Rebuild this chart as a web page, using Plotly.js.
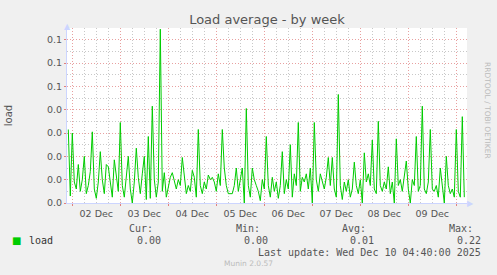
<!DOCTYPE html>
<html><head><meta charset="utf-8">
<script src="https://cdn.plot.ly/plotly-3.0.1.min.js"></script>
<style>html,body{margin:0;padding:0;background:#f0f0f0;}#c{width:497px;height:275px;}</style>
</head><body><div id="c"></div>
<script>
// hourly samples starting 2025-12-01 22:00
const startTime = '2025-12-01T22:00:00';
const loadValues = [
0.063,0.006,0.060,0.018,0.012,0.033,0.010,0.020,0.040,0.008,0.015,0.027,
0.061,0.012,0.004,0.018,0.044,0.020,0.008,0.033,0.031,0.020,0.005,0.037,
0.024,0.010,0.069,0.015,0.005,0.020,0.040,0.012,0.000,0.018,0.047,0.022,
0.008,0.025,0.040,0.003,0.057,0.004,0.083,0.020,0.005,0.018,0.149,0.010,
0.026,0.005,0.015,0.022,0.026,0.018,0.012,0.020,0.015,0.039,0.020,0.008,
0.015,0.010,0.028,0.022,0.005,0.063,0.015,0.008,0.018,0.012,0.024,0.020,
0.022,0.018,0.010,0.025,0.015,0.063,0.030,0.015,0.008,0.008,0.008,0.015,
0.030,0.010,0.020,0.030,0.000,0.081,0.015,0.005,0.030,0.020,0.015,0.010,
0.002,0.020,0.012,0.057,0.015,0.005,0.022,0.010,0.018,0.004,0.015,0.044,
0.008,0.020,0.012,0.050,0.005,0.025,0.015,0.069,0.010,0.022,0.018,0.025,
0.012,0.030,0.000,0.069,0.020,0.010,0.025,0.018,0.012,0.022,0.039,0.015,
0.039,0.012,0.005,0.093,0.015,0.003,0.018,0.010,0.020,0.005,0.012,0.035,
0.015,0.008,0.020,0.000,0.043,0.018,0.025,0.015,0.054,0.012,0.008,0.070,
0.015,0.010,0.018,0.012,0.031,0.008,0.018,0.000,0.055,0.015,0.020,0.010,
0.025,0.036,0.012,0.000,0.020,0.015,0.057,0.010,0.015,0.083,0.012,0.008,
0.018,0.063,0.012,0.010,0.015,0.005,0.030,0.012,0.000,0.040,0.015,0.008,
0.012,0.005,0.063,0.010,0.005,0.074,0.005
];
const dayTicks = ['2025-12-02','2025-12-03','2025-12-04','2025-12-05','2025-12-06','2025-12-07','2025-12-08','2025-12-09','2025-12-10'];
const dayLabels = ['02 Dec','03 Dec','04 Dec','05 Dec','06 Dec','07 Dec','08 Dec','09 Dec',''];
const yTickVals = [0,0.02,0.04,0.06,0.08,0.10,0.12,0.14];
const yTickText = ['0.0','0.0','0.0','0.0','0.0','0.1','0.1','0.1'];
const statHeads = ['Cur:','Min:','Avg:','Max:'];
const statVals = ['0.00','0.00','0.01','0.22'];
const seriesName = 'load';
const lastUpdate = 'Last update: Wed Dec 10 04:40:00 2025';

const t0 = new Date(startTime.replace('T',' ').replace(/-/g,'/')).getTime();
function fmt(ms){const d=new Date(ms);const p=n=>String(n).padStart(2,'0');
 return d.getFullYear()+'-'+p(d.getMonth()+1)+'-'+p(d.getDate())+' '+p(d.getHours())+':'+p(d.getMinutes())+':00';}
const xs = loadValues.map((v,i)=>fmt(t0+i*3600000));

const L=67,R=467,T=28,B=203,W=497,H=275;
const px=x=>(x-L)/(R-L), py=y=>(B-y)/(B-T);
const mono='DejaVu Sans Mono', sans='DejaVu Sans';
const ann=[];
function txt(x,y,s,opt){ann.push(Object.assign({xref:'paper',yref:'paper',x:px(x),y:py(y),text:s,showarrow:false,
  font:{family:mono,size:10,color:'#333'},xanchor:'left',yanchor:'middle'},opt||{}));}
const headX=[127,234,340,447], valX=[163,270,376,483];
statHeads.forEach((s,i)=>txt(headX[i],228,s,{font:{family:mono,size:10,color:'#555'}}));
statVals.forEach((s,i)=>txt(valX[i],240,s,{xanchor:'right',font:{family:mono,size:10,color:'#555'}}));
txt(27,240,seriesName,{font:{family:mono,size:10,color:'#333'}});
txt(483,252,lastUpdate,{xanchor:'right',font:{family:mono,size:10,color:'#555'}});
txt(248,263,'Munin 2.0.57',{xanchor:'center',font:{family:sans,size:7.5,color:'#bbb'}});
txt(487,110,'RRDTOOL / TOBI OETIKER',{xanchor:'center',textangle:90,font:{family:sans,size:7.5,color:'#bbb'}});
txt(16,240,'■',{xanchor:'center',font:{family:sans,size:10,color:'#00cc00'}});
txt(67,27,'▲',{xanchor:'center',font:{family:sans,size:8,color:'#ccd5ff'}});
txt(470,203,'▶',{xanchor:'center',font:{family:sans,size:8,color:'#ccd5ff'}});

const layout={
 width:W,height:H,paper_bgcolor:'#f0f0f0',plot_bgcolor:'#ffffff',
 margin:{l:L,r:W-R,t:T,b:H-B},showlegend:false,
 title:{text:'Load average - by week',font:{family:sans,size:13,color:'#555'},x:0.5,xref:'paper',xanchor:'center',y:1-19/H,yanchor:'middle'},
 xaxis:{type:'date',range:['2025-12-01 21:21','2025-12-10 05:21'],tickmode:'array',tickvals:dayTicks,ticktext:dayLabels,
   ticklabelshift:24,showgrid:true,gridcolor:'#e8a0a0',griddash:'1px,2px',gridwidth:1,ticks:'outside',ticklen:2,tickcolor:'#e08080',
   tickfont:{family:sans,size:9.5,color:'#555'},showline:true,linecolor:'#ccd5ff',zeroline:false,
   minor:{showgrid:true,tick0:'2025-12-02',dtick:6*3600000,gridcolor:'#c8c8c8',griddash:'1px,2px',gridwidth:1}},
 yaxis:{range:[0,0.15],tickmode:'array',tickvals:yTickVals,ticktext:yTickText,showgrid:true,gridcolor:'#e8a0a0',griddash:'1px,2px',
   ticks:'outside',ticklen:2,tickcolor:'#e08080',tickfont:{family:sans,size:9.5,color:'#555'},showline:true,linecolor:'#ccd5ff',zeroline:false,
   title:{text:'load',font:{family:sans,size:10,color:'#555'},standoff:32},
   minor:{showgrid:true,tick0:0.01,dtick:0.02,gridcolor:'#c8c8c8',griddash:'1px,2px',gridwidth:1}},
 annotations:ann
};
const trace={x:xs,y:loadValues,type:'scatter',mode:'lines',line:{color:'#00cc00',width:1},name:seriesName};
Plotly.newPlot('c',[trace],layout,{staticPlot:true,displayModeBar:false});
</script></body></html>
